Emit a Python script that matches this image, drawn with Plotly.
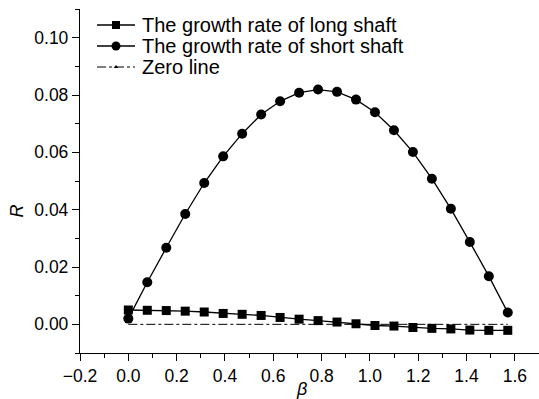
import plotly.graph_objects as go

beta = [0.0, 0.0785, 0.1571, 0.2356, 0.3142, 0.3927, 0.4712, 0.5498, 0.6283, 0.7069,
        0.7854, 0.8639, 0.9425, 1.0210, 1.0996, 1.1781, 1.2566, 1.3352, 1.4137, 1.4923, 1.5708]
long_rate = [0.0050, 0.0049, 0.0048, 0.0046, 0.0043, 0.0038, 0.0035, 0.0031, 0.0024, 0.0018,
             0.0013, 0.0008, 0.0002, -0.0004, -0.0006, -0.0011, -0.0014, -0.0016, -0.0020, -0.0021, -0.0021]
short_rate = [0.0020, 0.0147, 0.0267, 0.0385, 0.0493, 0.0586, 0.0665, 0.0732, 0.0778, 0.0808,
              0.0819, 0.0811, 0.0784, 0.0740, 0.0677, 0.0601, 0.0508, 0.0403, 0.0287, 0.0168, 0.0041]
zero_x = [0.0, 1.5708]
zero_y = [0.0, 0.0]

legend_names = ["The growth rate of long shaft", "The growth rate of short shaft", "Zero line"]

FONT = "Liberation Sans, Arial, sans-serif"

fig = go.Figure()
fig.add_trace(go.Scatter(x=zero_x, y=zero_y, mode="lines", showlegend=False,
                         line=dict(color="black", width=1, dash="dashdot")))
fig.add_trace(go.Scatter(x=beta, y=long_rate, mode="lines+markers", showlegend=False,
                         line=dict(color="black", width=1.3),
                         marker=dict(symbol="square", size=9, color="black")))
fig.add_trace(go.Scatter(x=beta, y=short_rate, mode="lines+markers", showlegend=False,
                         line=dict(color="black", width=1.3),
                         marker=dict(symbol="circle", size=10, color="black")))

# manual legend drawn on an overlay axis measured in page pixels
leg_rows = [25, 46, 67]
leg_x0, leg_x1, leg_xm = 97, 135, 116
styles = [
    (dict(color="black", width=1.3), dict(symbol="square", size=8, color="black")),
    (dict(color="black", width=1.3), dict(symbol="circle", size=9, color="black")),
    (dict(color="black", width=1, dash="dashdot"), dict(symbol="triangle-up", size=4, color="black")),
]
for name, yrow, (ln, mk) in zip(legend_names, leg_rows, styles):
    fig.add_trace(go.Scatter(x=[leg_x0, leg_x1], y=[yrow, yrow], mode="lines", line=ln,
                             xaxis="x2", yaxis="y2", showlegend=False, hoverinfo="skip",
                             cliponaxis=False))
    fig.add_trace(go.Scatter(x=[leg_xm], y=[yrow], mode="markers", marker=mk,
                             xaxis="x2", yaxis="y2", showlegend=False, hoverinfo="skip",
                             cliponaxis=False))
    fig.add_annotation(x=140, y=yrow, xref="x2", yref="y2", text=name, showarrow=False,
                       xanchor="left", yanchor="middle",
                       font=dict(family=FONT, size=20, color="black"))

axis_common = dict(showline=True, linecolor="black", linewidth=1.3, ticks="outside",
                   ticklen=7, tickwidth=1.3, tickcolor="black", showgrid=False,
                   zeroline=False, mirror=False,
                   tickfont=dict(family=FONT, size=17.5, color="black"))

fig.update_xaxes(range=[-0.2, 1.7], dtick=0.2, tick0=0, tickformat=".1f",
                 minor=dict(dtick=0.1, tick0=0, ticks="outside", ticklen=4, tickwidth=1.3, tickcolor="black"),
                 **axis_common)
fig.update_yaxes(range=[-0.01, 0.11], dtick=0.02, tick0=0, tickformat=".2f",
                 minor=dict(dtick=0.01, tick0=0, ticks="outside", ticklen=4, tickwidth=1.3, tickcolor="black"),
                 **axis_common)

fig.update_layout(
    width=539, height=399, margin=dict(l=80, r=0, t=9, b=46),
    plot_bgcolor="white", paper_bgcolor="white",
    font=dict(family=FONT, size=16, color="black"),
    showlegend=False,
    xaxis2=dict(overlaying="x", range=[80, 539], visible=False, fixedrange=True),
    yaxis2=dict(overlaying="y", range=[353, 9], visible=False, fixedrange=True),
)
# axis titles (paper coordinates)
fig.add_annotation(x=(16.5 - 80) / 459, y=(353 - 211) / 344, xref="paper", yref="paper",
                   xanchor="center", yanchor="middle",
                   text="<i>R</i>", showarrow=False, textangle=-90,
                   font=dict(family=FONT, size=18, color="black"))
fig.add_annotation(x=(301 - 80) / 459, y=(353 - 389) / 344, xref="paper", yref="paper",
                   xanchor="center", yanchor="middle",
                   text="<i>β</i>", showarrow=False,
                   font=dict(family=FONT, size=18, color="black"))

fig.write_html("out.html")
